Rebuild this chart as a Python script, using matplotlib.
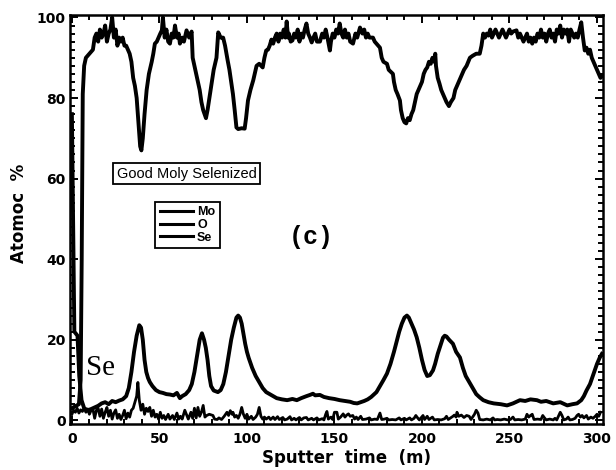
import matplotlib
matplotlib.use("Agg")
import matplotlib.pyplot as plt
from matplotlib.ticker import MultipleLocator
from matplotlib.lines import Line2D

# ---------------- data ----------------
mo_pts = [
    (0, 3), (2, 3.5), (4, 4), (5, 10), (5.6, 40), (6.2, 81), (7, 88), (8, 90), (10, 91), (12, 92),
    (13, 95), (14, 96), (15, 94), (16, 97), (17, 95), (18, 96), (19, 98), (20, 94), (21, 96), (22, 97),
    (23, 100), (24, 95), (25, 97), (26, 93), (27, 95), (28, 94), (29, 95), (30, 93), (31, 93), (32, 92),
    (33, 91), (34, 89), (35, 85), (36, 83), (37, 80), (38, 74), (39, 68), (39.7, 67), (40.5, 70),
    (41.5, 76), (42.7, 82), (44, 86), (45.6, 89), (46.5, 91), (47.4, 93.5), (48.5, 94), (49.5, 95),
    (50.5, 96), (51.4, 96.8), (52, 100), (53, 95), (54, 97), (55, 94), (56, 93.5), (57, 96), (58, 95),
    (58.9, 98), (60, 95), (61, 96), (61.7, 93.5), (63, 95), (64, 94), (65.5, 96.8), (67, 95),
    (68.4, 96.5), (69, 90), (70, 88), (71, 86), (72, 84), (73, 82), (74, 79), (75, 77), (76.6, 75),
    (77.5, 77), (78.9, 81), (80, 84), (81, 87), (82.6, 90), (83.6, 96.3), (85, 95), (86.4, 95),
    (87.5, 93), (89, 89.3), (90, 87), (91, 84), (92, 81), (93, 77), (94, 72.7), (95, 72.3), (97, 72.5),
    (98.7, 72.4), (99.5, 75), (100.6, 79.4), (102, 82), (103.6, 84.4), (105.5, 88), (107, 88.5),
    (109, 87.6), (110, 90), (111, 91.8), (112, 92), (113, 93), (114, 94.5), (115, 93.5), (116, 95),
    (117, 96), (118, 94), (119, 96), (120, 95), (121, 97), (122, 95), (122.7, 99), (123.5, 95),
    (124, 96), (125, 94), (126, 94.3), (127, 96), (128, 95), (129, 97), (130, 94), (131, 96), (132, 95),
    (133, 97), (134, 98.5), (135, 96), (136, 95), (137, 93.8), (138, 95), (139, 96), (140, 94),
    (141.7, 94), (143, 96), (144, 95), (145, 97), (146, 95), (147.4, 91.8), (148, 94), (149, 96),
    (150, 95), (151, 97), (152, 96), (153, 98.5), (154, 96), (155, 95), (156, 97), (157, 95), (158, 96),
    (159, 94), (160.6, 93.5), (162, 96), (163, 95), (164.6, 97.5), (166, 96), (167, 97), (168, 95),
    (169, 96), (170, 95), (172, 95), (173, 94), (174, 93.5), (176, 92.5), (177, 90), (178, 89),
    (180, 88.5), (181, 87), (183.4, 86), (184, 84), (185, 82), (186, 81), (187.4, 79.4), (188, 77),
    (189, 75), (190, 74), (191, 73.7), (192, 75), (193, 74.5), (194, 76), (195, 77), (196, 79),
    (197, 81), (198, 82), (199, 83), (200, 84), (201, 86), (202, 87), (203, 87.6), (204, 89),
    (205, 88.5), (206, 90), (207, 89), (207.6, 91), (208, 88), (209, 85), (210, 83.6), (211, 82),
    (212, 81), (213, 80), (214, 79), (215.4, 78), (216.5, 79), (218, 80), (219, 82), (220, 83),
    (222, 85), (223, 86), (224, 87), (225.5, 88), (227.4, 90), (229, 90.5), (231, 91), (233, 91),
    (234, 93), (235, 96), (236, 95), (237, 96), (238, 95.5), (239, 97), (240, 95), (241, 96), (242, 97),
    (243, 96), (244, 95), (245, 96), (246, 97), (247, 96), (248, 95), (249, 96), (250, 97), (251, 96),
    (252, 96.5), (254, 96.8), (255, 95), (256, 96), (257, 95), (258, 94), (259, 95), (260, 96),
    (261, 94), (262, 95), (263, 93.5), (264, 95), (265, 94), (266, 96), (267, 95), (268, 97), (269, 95),
    (270, 96), (271, 94), (272, 96), (273, 97), (274, 95), (275, 96), (276, 94), (277, 97), (278, 96),
    (279, 98), (280, 95), (281, 97), (282, 96), (283, 97), (284, 94), (285, 97), (286, 96), (287, 95),
    (288, 96), (289, 95), (290, 97), (291, 98.8), (292, 95), (293, 91.8), (294, 92.5), (295, 91),
    (296, 92), (297, 90), (298, 89), (299, 88), (300, 87), (301, 86), (302, 85), (303, 85.5),
]

se_pts = [
    (0, 76), (0.8, 45), (1.4, 22), (3.2, 21), (4.2, 11), (5.5, 5), (7, 3), (9, 2.5), (11, 2.8),
    (13, 3.2), (15, 3.6), (17, 4.2), (19, 4.5), (21, 4), (23, 4.8), (25, 4.5), (27, 4.9), (29, 5.2),
    (31, 6), (32.5, 8), (34, 12), (35.5, 17), (37, 21), (38.5, 23.6), (39.5, 23), (40.5, 20),
    (41.5, 15), (42.5, 12), (43.5, 10.5), (44.5, 9.5), (46, 8.5), (48, 7.5), (50, 7), (52, 6.8),
    (54, 6.5), (56, 6.4), (58, 6.2), (60, 6.8), (61.7, 5.5), (63, 6), (65, 6.5), (67, 7.5), (68.5, 9),
    (70, 12), (71.5, 16), (73, 20), (74.3, 21.6), (75.5, 20), (76.5, 18), (77.5, 15), (78.5, 11),
    (79.5, 8.5), (81, 7.4), (83.4, 7), (85, 7.5), (86.5, 9), (88, 12), (89.5, 16), (91, 20),
    (92.5, 23), (94, 25.5), (95, 26), (96, 25.5), (97, 24), (98, 21.5), (99, 19), (100, 17),
    (101, 15.5), (103, 13), (105, 11), (107, 9.5), (109, 8), (111, 7), (113, 6.5), (115, 6),
    (117, 5.5), (120, 5.2), (123, 5), (126, 5.3), (128.5, 5), (131, 5.5), (134, 6), (136, 6.3),
    (137.7, 6.6), (139, 6.2), (141.7, 6.3), (144, 5.8), (147, 5.5), (150, 5.3), (153, 5), (156, 4.8),
    (159, 4.6), (161, 4.3), (163, 4.2), (165, 4.5), (167, 4.8), (169, 5.2), (171, 5.8), (172, 6.2),
    (174, 7), (176, 8.5), (178, 10), (180, 11.6), (182, 14), (184, 17), (185.7, 19.8), (187, 22),
    (188.5, 24), (190, 25.5), (191.4, 26), (192.5, 25.5), (194, 24), (195.5, 22.5), (197, 20.6),
    (198.5, 18), (200, 15), (201.5, 12.5), (203, 11), (204.5, 11.2), (206.3, 12.4), (207.5, 14),
    (209, 16.5), (210.5, 18.5), (212, 20.5), (213, 21), (214, 20.8), (215.5, 20), (217.7, 19),
    (219.5, 17), (221.7, 15.6), (223.4, 13), (225, 11), (227, 9.5), (229, 8), (231, 6.5), (233, 5.7),
    (235, 5), (238, 4.5), (241, 4.2), (245, 4), (248.6, 3.7), (252, 4.2), (256, 5), (259, 4.8),
    (262, 5.2), (265.7, 5), (268, 4.6), (271, 4.8), (275, 4.2), (279, 4.5), (283, 3.7), (286, 4),
    (288.6, 4.2), (291, 5), (292.5, 6), (294, 7.4), (296, 9), (298, 11.5), (300, 14), (301.5, 15.5),
    (302.8, 16.5),
]

o_pts = [
    (0, 1.5), (1, 2.5), (2, 2), (3, 3), (4, 1.8), (5, 2.6), (6, 2.2), (7, 3), (8, 2), (9, 2.8),
    (10, 1.5), (11, 2.5), (12, 2.8), (13, 0.5), (14, 2.5), (15, 3), (16, 1), (17, 2.8), (18, 0.5),
    (19, 2), (20, 3.2), (21, 1), (22, 2.5), (23, 0.3), (24, 1.8), (25, 2.6), (26, 0.5), (27, 1.5),
    (28, 0.2), (29, 1.2), (30, 2.5), (31, 0.4), (32, 1.8), (33, 0.8), (34, 2.5), (35, 3), (36, 4.5),
    (37, 6), (37.7, 9.4), (38.5, 5), (39.5, 2.5), (40.5, 4), (41.5, 1.5), (42.5, 3), (43.5, 2.2),
    (44.5, 3.2), (45.5, 1), (46.5, 2.5), (47.5, 0.8), (48.5, 1.5), (49.5, 0.3), (50.5, 2), (51.5, 0.5),
    (52.5, 1.2), (53.5, 0.2), (55, 1.5), (56, 0.3), (57.5, 1.2), (58.5, 0.2), (60, 1.8), (61, 0.3),
    (62, 1), (63, 0.3), (64.5, 2.5), (65.7, 1.2), (66.5, 0.3), (68, 2), (69, 0.5), (70, 3), (71, 0.6),
    (72, 3.2), (73, 1), (74, 2), (75, 3.7), (76, 0.8), (77, 1.2), (78.5, 1.5), (80.6, 1.2), (81.5, 0.3),
    (83, 0.2), (84, 0.6), (85.5, 0.2), (87, 1), (88.6, 2), (89.5, 1.2), (90.5, 2.4), (91.5, 1.5),
    (92, 2), (93, 0.8), (94, 1.2), (95, 0.5), (96, 1.5), (97, 3.2), (98, 1.5), (99, 0.5), (100, 1.5),
    (101, 0.3), (102.5, 1), (103.5, 0.2), (105, 0.8), (106, 1.5), (107, 3.2), (108, 1), (109, 0.3),
    (110, 0.8), (111, 0.3), (112.5, 0.8), (113.5, 0.2), (115, 0.8), (116, 0.2), (117.5, 0.9),
    (118.5, 0.2), (120.5, 0.7), (121.5, 0.1), (123, 0.3), (124.6, 0.9), (125.5, 0.1), (127, 0.5),
    (128, 0.1), (130, 0.7), (131, 0.1), (132.5, 0.6), (134, 0.7), (135, 0.1), (137, 0.5), (138, 0.1),
    (140, 0.6), (141, 0.1), (143, 0.4), (144, 0.1), (145, 1.5), (145.7, 2.2), (146.5, 0.3), (148, 0.8),
    (149, 0.2), (150, 2), (151.4, 2), (152.2, 0.3), (153.5, 0.8), (155, 1.6), (156, 0.8), (157, 1.3),
    (158, 1.6), (159, 1), (160.5, 1.2), (161.5, 0.3), (162.5, 0.8), (163.5, 0.2), (165, 1), (166, 0.2),
    (168, 0.3), (170, 0.6), (171, 0.1), (173, 0.3), (174.5, 0.2), (176, 1.8), (177, 0.2), (178.5, 0.3),
    (180, 0.5), (181, 0.1), (183, 0.2), (185, 0.1), (187, 0.6), (188, 0.1), (190, 0.5), (191, 0.1),
    (193, 0.6), (194, 0.1), (195.5, 0.5), (196.5, 1.2), (197.7, 0.5), (198.5, 0.1), (200.6, 1.2),
    (201.5, 0.2), (203, 1), (204, 0.2), (206, 0.8), (207, 0.1), (209, 0.2), (211, 0.1), (213, 0.4),
    (214, 1), (215, 0.2), (217.7, 1), (218.5, 1.3), (219.5, 0.8), (220, 2), (221, 1), (222.5, 1.3),
    (224, 0.7), (225.5, 1.2), (227, 1), (228, 0.2), (230, 1.5), (231, 2.5), (232, 1.8), (233, 0.2),
    (235, 0.1), (237, 0.3), (239, 0.1), (240.6, 0.6), (241.5, 0.1), (243, 0.2), (245, 0.1), (247, 0.3),
    (249, 0.1), (250.5, 0.2), (252, 0.8), (253, 0.1), (255, 0.2), (257, 0.1), (259, 0.3), (260, 1.5),
    (261, 0.8), (262, 1.2), (263, 1.5), (264, 0.2), (266, 0.3), (268, 0.2), (269, 1.2), (270, 0.6),
    (271, 0.1), (273, 0.3), (275, 0.1), (276, 0.5), (277, 0.1), (279, 2), (280, 1.2), (281, 0.1),
    (282.5, 0.3), (283.5, 0.8), (284.5, 0.1), (286, 0.2), (287.5, 0.5), (288.6, 1.2), (289.5, 1.5),
    (290.5, 0.8), (291.5, 1.2), (292.5, 0.6), (294, 1.2), (295, 0.3), (296.5, 0.8), (297.7, 0.5),
    (299, 1), (300, 1.5), (301, 1), (302, 2),
]

x_ticks = [0, 50, 100, 150, 200, 250, 300]
y_ticks = [0, 20, 40, 60, 80, 100]
series_names = ["Mo", "O", "Se"]
x_label = "Sputter  time  (m)"
y_label = "Atomoc  %"
title_box = "Good Moly Selenized"
panel_tag = "(c)"
se_tag = "Se"

# ---------------- plot ----------------
plt.rcParams['font.family'] = ['Liberation Sans', 'DejaVu Sans']

fig = plt.figure(figsize=(6.16, 4.70), dpi=100)
ax = fig.add_axes([0.1136, 0.098, 0.8655, 0.870])

mx, my = zip(*mo_pts)
sx, sy = zip(*se_pts)
ox, oy = zip(*o_pts)

ax.plot(mx, my, color='black', lw=2.8, solid_joinstyle='round')
ax.plot(ox, oy, color='black', lw=2.0, solid_joinstyle='round')
ax.plot(sx, sy, color='black', lw=2.8, solid_joinstyle='round')

ax.set_xlim(-1.1, 303.5)
ax.set_ylim(-0.9, 100.6)

ax.set_xticks(x_ticks)
ax.set_yticks(y_ticks)
ax.xaxis.set_minor_locator(MultipleLocator(10))
ax.yaxis.set_minor_locator(MultipleLocator(2))
ax.tick_params(which='both', direction='in', top=True, right=True, width=1.4, color='black')
ax.tick_params(which='major', length=6)
ax.tick_params(which='minor', length=3.8)
ax.tick_params(axis='x', which='major', pad=6)
ax.tick_params(axis='y', which='major', pad=3)
for lab in ax.get_xticklabels() + ax.get_yticklabels():
    lab.set_fontweight('bold')
    lab.set_fontsize(10)
    lab.set_family(['DejaVu Sans'])
for sp in ax.spines.values():
    sp.set_linewidth(1.8)

ax.set_xlabel(x_label, fontsize=12, fontweight='bold', family=['DejaVu Sans'])
ax.set_ylabel(y_label, fontsize=12, fontweight='bold', family=['DejaVu Sans'])
ax.xaxis.set_label_coords(0.519, -0.062)
ax.yaxis.set_label_coords(-0.079, 0.515)

ax.text(0.219, 0.612, title_box, transform=ax.transAxes, ha='center', va='center',
        fontsize=10.5, bbox=dict(boxstyle='square,pad=0.25', fc='white', ec='black', lw=1.3))

handles = [Line2D([], [], color='black', lw=2.2) for _ in series_names]
leg = ax.legend(handles, series_names, loc='upper left', bbox_to_anchor=(0.148, 0.558),
                frameon=True, fancybox=False, edgecolor='black', framealpha=1,
                handlelength=2.7, handletextpad=0.3, labelspacing=0.05, borderpad=0.35,
                prop={'weight': 'bold', 'size': 9})
leg.get_frame().set_linewidth(1.3)

ax.text(136.6, 45.4, panel_tag, ha='center', va='center', fontsize=18, fontweight='bold',
        family=['Liberation Mono', 'DejaVu Sans Mono'])
ax.text(8.3, 11.3, se_tag, ha='left', va='baseline', fontsize=21,
        family=['Liberation Serif', 'DejaVu Serif'])

fig.savefig('out.png', dpi=100)
